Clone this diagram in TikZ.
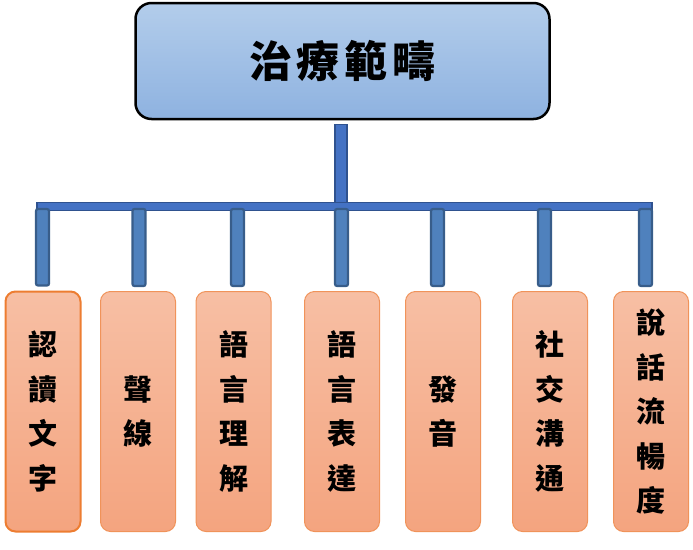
\documentclass[tikz,border=0pt]{standalone}
\usepackage{fontspec}
\newfontfamily\cjk{Noto Sans CJK TC}
\usetikzlibrary{calc}
\definecolor{topA}{HTML}{B3CDEB}
\definecolor{topB}{HTML}{8EB2E0}
\definecolor{leafA}{HTML}{F7BFA4}
\definecolor{leafB}{HTML}{F4A47F}
\definecolor{leafline}{HTML}{ED7D31}
\definecolor{leaflineB}{HTML}{F0935A}
\definecolor{busfill}{HTML}{4472C4}
\definecolor{busline}{HTML}{2F528F}
\definecolor{dropfill}{HTML}{4F81BD}
\definecolor{dropline}{HTML}{385D8A}
\begin{document}
\begin{tikzpicture}[x=1pt,y=-1pt,
  topbox/.style={draw=black, line width=2.5pt, rounded corners=16pt, top color=topA, bottom color=topB,
    minimum width=414pt, minimum height=116pt, inner sep=0pt,
    font=\cjk\bfseries\fontsize{43}{50}\selectfont},
  leafbox/.style={draw=leaflineB, line width=1pt, rounded corners=10pt, top color=leafA, bottom color=leafB,
    minimum width=75pt, minimum height=240pt, inner sep=0pt, align=center,
    font=\cjk\bfseries\fontsize{29}{44.5}\selectfont},
  stembar/.style={fill=busfill, draw=busline, line width=1.5pt},
  dropbar/.style={fill=dropfill, draw=dropline, line width=2.2pt, rounded corners=2pt}]
\useasboundingbox (0,0) rectangle (693,549);

\node[topbox] (top) at (342.5,61) {\raisebox{-3pt}{治\hspace{5pt}療\hspace{5pt}範\hspace{5pt}疇}};

\node[leafbox, draw=leafline, line width=2pt] (b1) at (43,411.5) {認\\讀\\文\\字};
\node[leafbox] (b2) at (138,411.5) {聲\\線};
\node[leafbox] (b3) at (233.5,411.5) {語\\言\\理\\解};
\node[leafbox] (b4) at (342,411.5) {語\\言\\表\\達};
\node[leafbox] (b5) at (443,411.5) {發\\音};
\node[leafbox] (b6) at (550,411.5) {社\\交\\溝\\通};
\node[leafbox] (b7) at (651,411.5) {說\\話\\流\\暢\\度};

\coordinate (busL) at (37,202.5);
\coordinate (busR) at (652,210.5);
\coordinate (stem) at (341,202.5);

\draw[stembar] (busL) rectangle (busR);
\draw[stembar] ($(stem |- top.south)+(-6,4)$) rectangle ($(stem)+(6,0)$);

\foreach \i/\dx in {1/42.5, 2/139, 3/237.5, 4/341.5, 5/437.5, 6/544.5, 7/645.5}{
  \coordinate (d\i) at (\dx,209);
  \draw[dropbar] ($(d\i)+(-6.5,0)$) rectangle ($(d\i |- b\i.north)+(6.5,-5)$);
}
\end{tikzpicture}
\end{document}
